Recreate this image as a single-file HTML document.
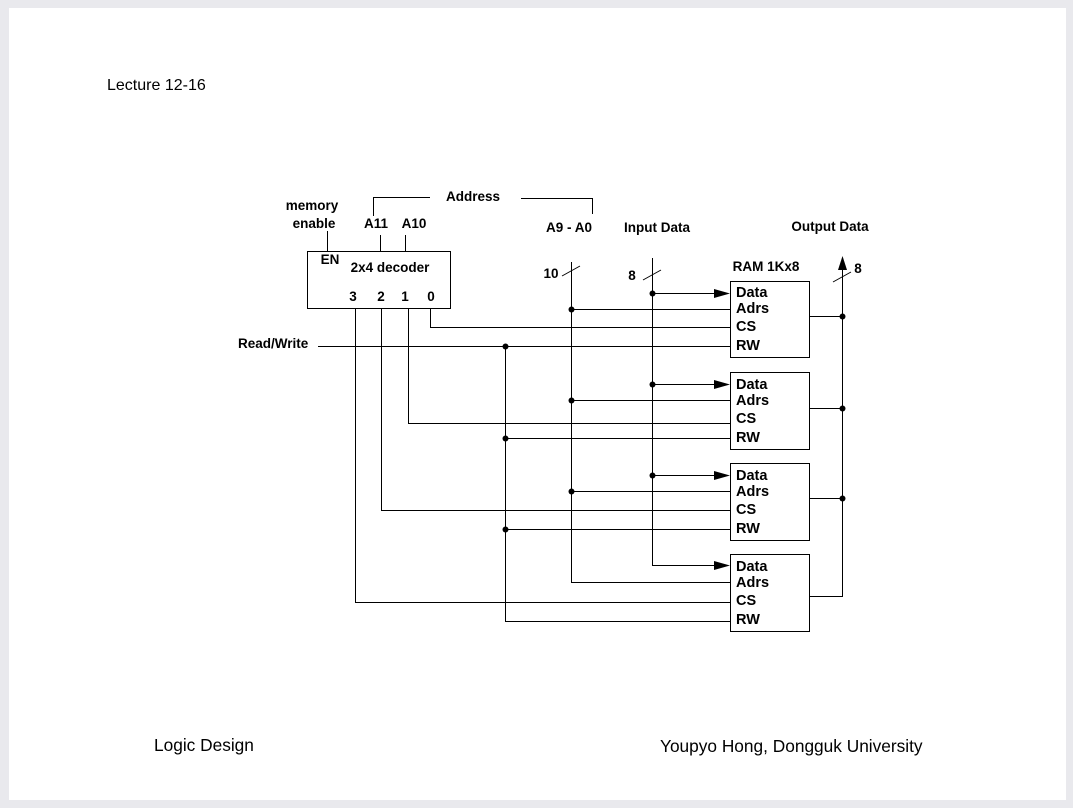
<!DOCTYPE html>
<html><head><style>
html,body{margin:0;padding:0;background:#e9e9ed;}
svg{display:block;}
</style></head><body>
<svg width="1073" height="808" xmlns="http://www.w3.org/2000/svg" font-family="Liberation Sans, sans-serif">
<rect x="0" y="0" width="1073" height="808" fill="#e9e9ed"/>
<rect x="9" y="8" width="1057" height="792" fill="#fff"/>
<text x="107" y="90" font-size="16">Lecture 12-16</text>
<text x="154" y="751" font-size="17.3">Logic Design</text>
<text x="660" y="752" font-size="17.3">Youpyo Hong, Dongguk University</text>
<g font-size="13.5" font-weight="bold" fill="#000">
<text x="312" y="210" text-anchor="middle">memory</text>
<text x="314" y="228" text-anchor="middle">enable</text>
<text x="376" y="228" text-anchor="middle">A11</text>
<text x="414" y="228" text-anchor="middle">A10</text>
<text x="473" y="201" text-anchor="middle">Address</text>
<text x="569" y="232" text-anchor="middle">A9 - A0</text>
<text x="657" y="232" text-anchor="middle">Input Data</text>
<text x="830" y="231" text-anchor="middle">Output Data</text>
<text x="766" y="271" text-anchor="middle">RAM 1Kx8</text>
<text x="330" y="264" text-anchor="middle">EN</text>
<text x="390" y="272" text-anchor="middle">2x4 decoder</text>
<text x="353" y="301" text-anchor="middle">3</text>
<text x="381" y="301" text-anchor="middle">2</text>
<text x="405" y="301" text-anchor="middle">1</text>
<text x="431" y="301" text-anchor="middle">0</text>
<text x="238" y="348">Read/Write</text>
<text x="551" y="278" text-anchor="middle">10</text>
<text x="632" y="280" text-anchor="middle">8</text>
<text x="858" y="273" text-anchor="middle">8</text>
</g>
<g font-size="14.5" font-weight="bold">
<text x="736" y="297">Data</text><text x="736" y="313">Adrs</text><text x="736" y="331">CS</text><text x="736" y="350">RW</text>
<text x="736" y="389">Data</text><text x="736" y="405">Adrs</text><text x="736" y="423">CS</text><text x="736" y="442">RW</text>
<text x="736" y="480">Data</text><text x="736" y="496">Adrs</text><text x="736" y="514">CS</text><text x="736" y="533">RW</text>
<text x="736" y="571">Data</text><text x="736" y="587">Adrs</text><text x="736" y="605">CS</text><text x="736" y="624">RW</text>
</g>
<g stroke="#000" stroke-width="1" fill="none">
<rect x="307.5" y="251.5" width="143" height="57"/>
<rect x="730.5" y="281.5" width="79" height="76"/>
<rect x="730.5" y="372.5" width="79" height="77"/>
<rect x="730.5" y="463.5" width="79" height="77"/>
<rect x="730.5" y="554.5" width="79" height="77"/>
<path d="M327.5 231V251M380.5 235V251M405.5 235V251"/>
<path d="M373.5 216V197.5H430M521 198.5H592.5V214"/>
<path d="M571.5 262V582.5H730"/>
<path d="M652.5 258V565.5H715"/>
<path d="M652 293.5H715M652 384.5H715M652 475.5H715"/>
<path d="M571 309.5H730M571 400.5H730M571 491.5H730"/>
<path d="M430.5 308V327.5H730M408.5 308V423.5H730M381.5 308V510.5H730M355.5 308V602.5H730"/>
<path d="M318 346.5H730M505.5 346V621.5H730M505 438.5H730M505 529.5H730"/>
<path d="M842.5 266V596.5H809M809 316.5H842M809 408.5H842M809 498.5H842"/>
<path d="M562 276L580 266M643 280L661 270M833 282L851 272"/>
</g>
<g fill="#000">
<polygon points="730,293.5 714,289 714,298"/>
<polygon points="730,384.5 714,380 714,389"/>
<polygon points="730,475.5 714,471 714,480"/>
<polygon points="730,565.5 714,561 714,570"/>
<polygon points="842.5,256 838,270 847,270"/>
<circle cx="571.5" cy="309.5" r="3"/><circle cx="571.5" cy="400.5" r="3"/><circle cx="571.5" cy="491.5" r="3"/>
<circle cx="652.5" cy="293.5" r="3"/><circle cx="652.5" cy="384.5" r="3"/><circle cx="652.5" cy="475.5" r="3"/>
<circle cx="505.5" cy="346.5" r="3"/><circle cx="505.5" cy="438.5" r="3"/><circle cx="505.5" cy="529.5" r="3"/>
<circle cx="842.5" cy="316.5" r="3"/><circle cx="842.5" cy="408.5" r="3"/><circle cx="842.5" cy="498.5" r="3"/>
</g>
</svg>
</body></html>
